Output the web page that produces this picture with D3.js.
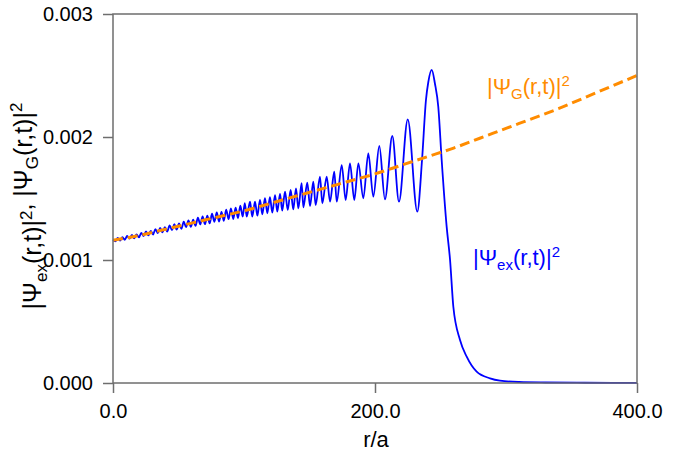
<!DOCTYPE html>
<html>
<head>
<meta charset="utf-8">
<script src="https://cdn.jsdelivr.net/npm/d3@7"></script>
<style>
  body { margin: 0; background: #fff; }
  svg { display: block; font-family: "Liberation Sans", Arial, sans-serif; }
</style>
</head>
<body>
<div id="chart"></div>
<script>
// gaussian approximation |Psi_G(r,t)|^2
const rG = [0, 20, 40, 60, 80, 100, 120, 140, 160, 180, 200, 220, 240, 260, 280, 300, 320, 340, 360, 380, 400];
const psiG = [0.001160, 0.001200, 0.001250, 0.001300, 0.001350, 0.001400, 0.001460, 0.001520, 0.001580, 0.001640,
              0.001700, 0.001770, 0.001840, 0.001910, 0.001990, 0.002070, 0.002150, 0.002230, 0.002320, 0.002410, 0.002500];

const rEx = [0.0, 1.8, 3.6, 5.4, 7.2, 9.0, 10.8, 12.6, 14.4, 16.2, 18.0, 19.8, 21.6, 23.4, 25.2, 27.0, 28.8, 30.6,
             32.4, 34.2, 36.0, 37.8, 39.6, 41.4, 43.2, 45.0, 46.8, 48.6, 50.4, 52.2, 54.0, 55.8, 57.6, 59.4,
             61.2, 63.0, 64.8, 66.6, 68.4, 70.2, 72.0, 73.8, 75.6, 77.4, 79.2, 81.0, 82.8, 84.6, 86.4, 88.2,
             90.0, 91.8, 93.6, 95.4, 97.2, 99.0, 100.6, 102.1, 104.6, 106.3, 108.4, 110.2, 112.2, 114.0, 116.0,
             117.8, 119.8, 121.6, 123.7, 125.4, 127.5, 129.2, 131.3, 133.4, 135.6, 137.6, 139.7, 141.5, 144.0,
             145.3, 148.3, 150.4, 152.9, 154.7, 158.0, 159.8, 163.1, 165.7, 168.9, 170.8, 174.6, 177.6, 180.9,
             184.2, 187.3, 191.1, 194.9, 198.7, 203.3, 207.6, 213.2, 218.3, 225.0, 232.3, 235.9, 238.9, 240.7,
             243.3, 245.8, 248.3, 250.9, 254.7, 257.3, 259.8, 264.9, 270.0, 277.6, 287.8, 295.4, 310, 330, 360, 400];
const psiEx = [1.162, 1.152, 1.179, 1.158, 1.185, 1.164, 1.195, 1.173, 1.205, 1.177, 1.208, 1.184, 1.221, 1.194,
               1.232, 1.200, 1.237, 1.207, 1.251, 1.219, 1.261, 1.224, 1.267, 1.231, 1.281, 1.243, 1.291, 1.247,
               1.297, 1.254, 1.312, 1.267, 1.322, 1.269, 1.328, 1.277, 1.344, 1.289, 1.354, 1.291, 1.360, 1.298,
               1.376, 1.311, 1.387, 1.312, 1.392, 1.319, 1.410, 1.332, 1.420, 1.333, 1.425, 1.340, 1.442, 1.353,
               1.462, 1.352, 1.474, 1.352, 1.474, 1.360, 1.488, 1.372, 1.502, 1.380, 1.510, 1.385, 1.528, 1.393,
               1.537, 1.401, 1.555, 1.407, 1.569, 1.412, 1.583, 1.420, 1.624, 1.428, 1.628, 1.439, 1.637, 1.447,
               1.677, 1.461, 1.677, 1.474, 1.718, 1.474, 1.772, 1.488, 1.786, 1.488, 1.786, 1.502, 1.867, 1.515,
               1.927, 1.493, 2.008, 1.474, 2.144, 1.393, 1.813, 2.301, 2.447, 2.545, 2.431, 2.246, 1.813, 1.271,
               1.000, 0.620, 0.350, 0.214, 0.092, 0.038, 0.019, 0.008, 0.004, 0.002, 0.001].map(v => v * 1e-3);

const xTicks = [0, 200, 400];
const yTicks = [0, 0.001, 0.002, 0.003];

const width = 678, height = 452;
const plot = {left: 113, right: 637, top: 14, bottom: 383};
const blue = "#0000ff", orange = "#ff8c00", axisColor = "#6e6e6e";

const svg = d3.select("#chart").append("svg")
    .attr("width", width)
    .attr("height", height);

const x = d3.scaleLinear().domain([0, 400]).range([plot.left, plot.right]);
const y = d3.scaleLinear().domain([0, 0.003]).range([plot.bottom, plot.top]);

// exact curve
const lineEx = d3.line()
    .x((d, i) => x(rEx[i]))
    .y(d => y(d))
    .curve(d3.curveMonotoneX);

svg.append("path")
    .attr("d", lineEx(psiEx))
    .attr("fill", "none")
    .attr("stroke", blue)
    .attr("stroke-width", 1.8)
    .attr("stroke-linejoin", "round");

// gaussian curve, dashed on top
const lineG = d3.line()
    .x((d, i) => x(rG[i]))
    .y(d => y(d))
    .curve(d3.curveMonotoneX);

svg.append("path")
    .attr("d", lineG(psiG))
    .attr("fill", "none")
    .attr("stroke", orange)
    .attr("stroke-width", 3)
    .attr("stroke-dasharray", "10,5");

// frame
svg.append("rect")
    .attr("x", plot.left)
    .attr("y", plot.top)
    .attr("width", plot.right - plot.left)
    .attr("height", plot.bottom - plot.top)
    .attr("fill", "none")
    .attr("stroke", axisColor)
    .attr("stroke-width", 1.5);

// axes
const xAxis = svg.append("g")
    .attr("transform", "translate(0," + plot.bottom + ")")
    .call(d3.axisBottom(x).tickValues(xTicks).tickFormat(d3.format(".1f")).tickSize(10).tickPadding(11));

const yAxis = svg.append("g")
    .attr("transform", "translate(" + plot.left + ",0)")
    .call(d3.axisLeft(y).tickValues(yTicks).tickFormat(d3.format(".3f")).tickSize(10).tickPadding(10));

[xAxis, yAxis].forEach(g => {
    g.select(".domain").remove();
    g.selectAll(".tick line").attr("stroke", axisColor).attr("stroke-width", 1.5);
    g.selectAll(".tick text")
        .attr("fill", "#000")
        .style("font-size", "20px")
        .style("font-family", "'Liberation Sans', Arial, sans-serif");
});

// axis titles
svg.append("text")
    .attr("x", 376)
    .attr("y", 447)
    .attr("text-anchor", "middle")
    .style("font-size", "22px")
    .text("r/a");

function psiLabel(sel, sub, size) {
    let s = Math.round(size * 0.68);
    sel.append("tspan").text("|Ψ");
    sel.append("tspan").attr("dy", size * 0.24).style("font-size", s + "px").text(sub);
    sel.append("tspan").attr("dy", -size * 0.24).text("(r,t)|");
    sel.append("tspan").attr("dy", -size * 0.38).style("font-size", s + "px").text("2");
    sel.append("tspan").attr("dy", size * 0.38).text("");
}

const yLabel = svg.append("text")
    .attr("transform", "translate(41,206) rotate(-90)")
    .attr("text-anchor", "middle")
    .style("font-size", "25px");
psiLabel(yLabel, "ex", 25);
yLabel.append("tspan").text(",  ");
psiLabel(yLabel, "G", 25);

// in-plot labels
const gLabel = svg.append("text")
    .attr("x", 487)
    .attr("y", 94)
    .attr("fill", orange)
    .style("font-size", "22px");
psiLabel(gLabel, "G", 22);

const exLabel = svg.append("text")
    .attr("x", 473)
    .attr("y", 265)
    .attr("fill", blue)
    .style("font-size", "22px");
psiLabel(exLabel, "ex", 22);
</script>
</body>
</html>
